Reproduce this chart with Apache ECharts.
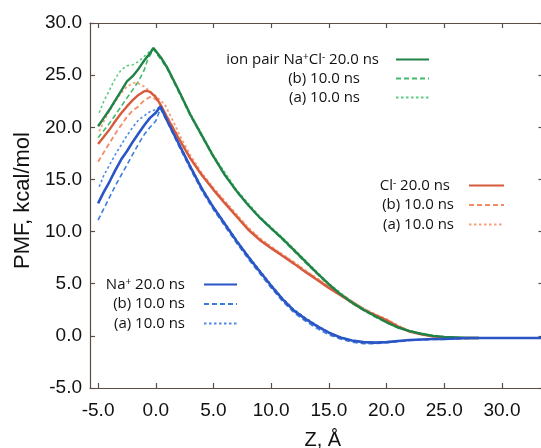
<!DOCTYPE html>
<html><head><meta charset="utf-8">
<script src="https://cdn.jsdelivr.net/npm/echarts@6/dist/echarts.min.js"></script>
<style>html,body{margin:0;padding:0;background:#fff}#c{width:541px;height:448px}</style>
</head><body><div id="c"></div>
<script>
// ---- tick labels ----
const xTicks = [-5, 0, 5, 10, 15, 20, 25, 30];

// ---- ion pair Na+Cl- ----
const zPairSolid = [-5,-4.5,-4,-3.5,-3,-2.5,-2,-1.5,-1,-0.5,-0.2,0.5,1,2,3,4,5,6,7,8,9,10,11,12,13,14,15,16,17,18,19,20,21,22,23,24,25,26,27,28];
const pmfPairSolid = [20.1,20.9,21.7,22.6,23.5,24.4,24.9,25.6,26.4,27.1,27.6,26.6,25.7,23.5,21.2,19.2,17.2,15.4,13.9,12.55,11.35,10.3,9.3,8.2,7.1,6.0,4.95,4.0,3.2,2.5,1.9,1.3,0.8,0.45,0.2,0.0,-0.1,-0.15,-0.2,-0.2];
const zPairB = [-5,-4.5,-4,-3.5,-3,-2.5,-2,-1.5,-1,-0.7,-0.2,1,3,5,7,9,11,13,15,17,19,21,23,25,27,28];
const pmfPairB = [19.0,19.7,20.4,21.2,22.0,22.8,23.6,24.4,25.5,26.5,27.5,25.6,21.1,17.1,13.8,11.3,9.2,7.0,4.85,3.1,1.8,0.75,0.15,-0.1,-0.2,-0.2];
const zPairA = [-4.9,-4.5,-4,-3.5,-3,-2.5,-2,-1.5,-1,-0.5,-0.2,1,3,5,7,9,11,13,15,17,19,21,23,25,27,28];
const pmfPairA = [21.4,22.5,23.6,24.7,25.5,25.9,26.0,26.3,26.8,27.3,27.6,25.8,21.3,17.3,14.0,11.45,9.4,7.2,5.0,3.3,2.0,0.85,0.2,-0.1,-0.2,-0.2];

// ---- Cl- ----
const zClSolid = [-5,-4.5,-4,-3.5,-3,-2.5,-2,-1.5,-1,-0.8,-0.5,0,0.4,1,2,3,4,5,6,7,8,9,10,11,12,13,14,15,16,17,18,19,20,21,22,23,24,25,26,27,28];
const pmfClSolid = [18.4,19.1,19.8,20.6,21.35,22.0,22.6,23.1,23.45,23.5,23.4,22.9,22.2,20.9,18.9,17.0,15.4,14.0,12.7,11.45,10.2,9.2,8.4,7.65,6.9,6.1,5.35,4.6,3.9,3.2,2.5,2.0,1.5,0.9,0.4,0.15,-0.05,-0.15,-0.2,-0.2,-0.2];
const zClB = [-5,-4.5,-4,-3.5,-3,-2.5,-2,-1.5,-1,-0.4,0.2,1,2,3,4,5,6,7,8,9,10,11,12,13,14,15,16,17,18,19,20,21,22,23,24,25,26,27,28];
const pmfClB = [16.7,17.6,18.5,19.4,20.2,21.0,21.6,22.0,22.6,22.95,22.5,21.0,19.0,17.1,15.5,14.1,12.8,11.55,10.3,9.3,8.5,7.75,7.0,6.2,5.45,4.7,4.0,3.3,2.6,2.05,1.55,0.95,0.45,0.15,-0.05,-0.15,-0.2,-0.2,-0.2];
const zClA = [-4.9,-4.5,-4,-3.5,-3,-2.5,-2,-1.7,-1,-0.1,0.8,1.5,2,3,4,5,6,7,8,9,10,11,12,13,14,15,16,17,18,19,20,21,22,23,24,25,26,27,28];
const pmfClA = [19.6,20.6,21.6,22.5,23.3,23.9,24.2,24.3,23.9,23.1,22.15,20.6,19.4,17.3,15.6,14.2,12.9,11.65,10.4,9.4,8.55,7.8,7.05,6.25,5.5,4.75,4.05,3.35,2.6,2.1,1.6,1.0,0.45,0.15,-0.05,-0.15,-0.2,-0.2,-0.2];

// ---- Na+ ----
const zNaSolid = [-5,-4.5,-4,-3.5,-3,-2.5,-2,-1.5,-1,-0.5,0,0.4,1,2,3,4,5,6,7,8,9,10,11,12,13,14,15,16,17,18,19,20,21,22,23,24,25,26,27,28,30,32,34];
const pmfNaSolid = [12.7,13.8,14.8,15.9,16.9,17.7,18.6,19.4,20.2,20.9,21.4,22.0,20.6,18.4,16.2,14.1,12.3,10.7,9.1,7.6,6.2,4.8,3.5,2.4,1.6,0.9,0.3,-0.15,-0.45,-0.6,-0.65,-0.6,-0.5,-0.4,-0.35,-0.3,-0.3,-0.25,-0.2,-0.2,-0.2,-0.2,-0.2];
const zNaB = [-5,-4.5,-4,-3.5,-3,-2.5,-2,-1.5,-1,-0.5,0,0.4,1,2,3,4,5,6,7,8,9,10,11,12,13,14,15,16,17,18,19,20,21,22,24,26,28,30];
const pmfNaB = [11.1,12.2,13.3,14.4,15.4,16.4,17.4,18.4,19.3,20.0,20.6,21.8,20.5,18.2,16.0,13.9,12.1,10.5,8.9,7.4,6.0,4.6,3.3,2.2,1.4,0.7,0.1,-0.3,-0.6,-0.75,-0.75,-0.65,-0.55,-0.45,-0.35,-0.3,-0.2,-0.2];
const zNaA = [-4.9,-4.5,-4,-3.5,-3,-2.5,-2,-1.5,-1,-0.5,0,0.4,1,2,3,4,5,6,7,8,9,10,11,12,13,14,15,16,17,18,19,20,21,22,24,26,28,30];
const pmfNaA = [14.3,15.4,16.4,17.4,18.3,19.2,20.0,20.7,21.1,21.5,21.7,22.0,20.7,18.5,16.3,14.2,12.4,10.8,9.2,7.7,6.3,4.9,3.6,2.5,1.7,1.0,0.35,-0.1,-0.45,-0.6,-0.65,-0.6,-0.5,-0.4,-0.3,-0.25,-0.2,-0.2];

const pair = (xs, ys) => xs.map((x, i) => [x, ys[i]]);

const axisColor = '#5b4d46';
const labelFont = 'Liberation Sans, Arial, Helvetica, sans-serif';
const legendFont = 'Open Sans, Noto Sans, sans-serif';
const DASH = [5, 3];
const DOT = [2.5, 2.5];

const C = {
  gS: '#1f8246', gD: '#45bb6a', gA: '#5fcc7e',
  oS: '#d75a3c', oD: '#f28d68', oA: '#f5a07c',
  bS: '#2a55c4', bD: '#3d7ce0', bA: '#4d8ae8'
};

function line(name, data, color, width, type, z) {
  return {
    name, type: 'line', data, symbol: 'none', smooth: false, z: z,
    lineStyle: { color, width, type },
    itemStyle: { color },
    emphasis: { disabled: true }
  };
}

const series = [
  line('pairA', pair(zPairA, pmfPairA), C.gA, 1.6, DOT, 2),
  line('pairB', pair(zPairB, pmfPairB), C.gD, 1.6, DASH, 2),
  line('clA', pair(zClA, pmfClA), C.oA, 1.9, DOT, 2),
  line('clB', pair(zClB, pmfClB), C.oD, 1.8, DASH, 2),
  line('naA', pair(zNaA, pmfNaA), C.bA, 1.6, DOT, 2),
  line('naB', pair(zNaB, pmfNaB), C.bD, 1.6, DASH, 2),
  line('clS', pair(zClSolid, pmfClSolid), C.oS, 2.4, 'solid', 3),
  line('pairS', pair(zPairSolid, pmfPairSolid), C.gS, 2.4, 'solid', 3),
  line('naS', pair(zNaSolid, pmfNaSolid), C.bS, 2.6, 'solid', 3)
];

const legendText = {
  pairS: '{n|ion pair Na}{s|+}{n|Cl}{s|-}{p12| 20.0 ns}',
  pairB: '{p31|(b) 10.0 ns}',
  pairA: '{p31|(a) 10.0 ns}',
  clS: '{n|Cl}{s|-}{p14| 20.0 ns}',
  clB: '{p10|(b) 10.0 ns}',
  clA: '{p10|(a) 10.0 ns}',
  naS: '{n|Na}{s|+}{p14| 20.0 ns}',
  naB: '{p14|(b) 10.0 ns}',
  naA: '{p14|(a) 10.0 ns}'
};

const txt = { fontSize: 15, fontFamily: legendFont, color: '#111', lineHeight: 14 };
const rich = {
  n: txt,
  s: Object.assign({}, txt, { fontSize: 10, verticalAlign: 'top' }),
  p10: Object.assign({}, txt, { padding: [0, 10, 0, 0] }),
  p12: Object.assign({}, txt, { padding: [0, 12, 0, 0] }),
  p14: Object.assign({}, txt, { padding: [0, 14, 0, 0] }),
  p31: Object.assign({}, txt, { padding: [0, 31, 0, 0] })
};

function legend(names, right, top, width, gap) {
  return {
    data: names, orient: 'vertical', align: 'right', right, top, padding: 0,
    itemWidth: width, itemHeight: 14, itemGap: gap, selectedMode: false,
    itemStyle: { opacity: 0 },
    formatter: n => legendText[n],
    textStyle: { rich, fontSize: 15, fontFamily: legendFont, color: '#111' }
  };
}

const tickStyle = { color: axisColor, width: 1.2 };
const baseX = { type: 'value', min: -5.7, max: 33.6, splitLine: { show: false } };
const baseY = { type: 'value', min: -5, max: 30, interval: 5, splitLine: { show: false } };

const option = {
  animation: false,
  grid: { left: 90, right: -2.5, top: 23, bottom: 60, containLabel: false, outerBoundsMode: 'none' },
  xAxis: [
    Object.assign({}, baseX, {
      position: 'bottom',
      axisLine: { show: true, onZero: false, lineStyle: tickStyle },
      axisTick: { show: true, inside: true, length: 5, customValues: xTicks, lineStyle: tickStyle },
      axisLabel: { customValues: xTicks, formatter: v => v.toFixed(1), margin: 13, fontSize: 19, color: '#111', fontFamily: labelFont },
      name: 'Z, Å', nameLocation: 'middle', nameGap: 42,
      nameTextStyle: { fontSize: 20, color: '#111', fontFamily: labelFont, padding: [0, 0, 0, 12] }
    }),
    Object.assign({}, baseX, {
      position: 'top',
      axisLine: { show: true, onZero: false, lineStyle: tickStyle },
      axisTick: { show: true, inside: true, length: 5, customValues: xTicks, lineStyle: tickStyle },
      axisLabel: { show: false }
    })
  ],
  yAxis: [
    Object.assign({}, baseY, {
      position: 'left',
      axisLine: { show: true, onZero: false, lineStyle: tickStyle },
      axisTick: { show: true, inside: true, length: 5, lineStyle: tickStyle },
      axisLabel: { formatter: v => v.toFixed(1), margin: 8, fontSize: 19, color: '#111', fontFamily: labelFont },
      name: 'PMF, kcal/mol', nameLocation: 'middle', nameGap: 54,
      nameTextStyle: { fontSize: 22, color: '#111', fontFamily: labelFont, padding: [0, 0, 0, 10] }
    }),
    Object.assign({}, baseY, {
      position: 'right',
      axisLine: { show: true, onZero: false, lineStyle: tickStyle },
      axisTick: { show: true, inside: true, length: 5, lineStyle: tickStyle },
      axisLabel: { show: false }
    })
  ],
  legend: [
    legend(['pairS', 'pairB', 'pairA'], 111, 52, 33, 4),
    legend(['clS', 'clB', 'clA'], 36, 178, 35, 4.5),
    legend(['naS', 'naB', 'naA'], 303, 277, 33, 4.5)
  ],
  series
};

const chart = echarts.init(document.getElementById('c'), null, { renderer: 'canvas' });
chart.setOption(option);
</script>
</body></html>
